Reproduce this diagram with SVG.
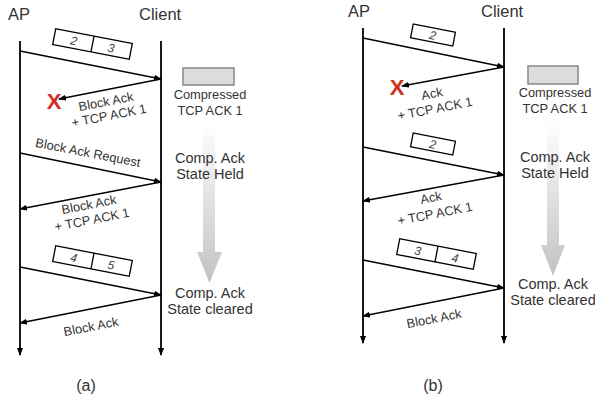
<svg xmlns="http://www.w3.org/2000/svg" width="595" height="402" viewBox="0 0 595 402">
  <defs>
    <style>
      text { font-family: "Liberation Sans", Arial, sans-serif; fill: #333; }
      .head { font-size: 16.5px; }
      .lbl { font-size: 12.8px; text-anchor: middle; }
      .state { font-size: 14.5px; text-anchor: middle; }
      .cmp { font-size: 12.8px; text-anchor: middle; }
      .cap { font-size: 16px; text-anchor: middle; }
      .num { font-size: 12px; text-anchor: middle; font-style: italic; fill: #444; }
      .life { stroke: #000; stroke-width: 1.8; fill: none; }
      .msg { stroke: #000; stroke-width: 1.3; fill: none; }
      .pkt { fill: #fff; stroke: #000; stroke-width: 1.3; }
      .cbox { fill: #dcdcdc; stroke: #888; stroke-width: 1.5; }
      .lost { font-size: 22px; font-weight: bold; fill: #d0311c; text-anchor: middle; }
    </style>
    <marker id="arr" markerWidth="8" markerHeight="6" refX="7" refY="3" orient="auto" markerUnits="userSpaceOnUse">
      <path d="M0,0 L8,3 L0,6 Z" fill="#000"/>
    </marker>
    <linearGradient id="fade" x1="0" y1="0" x2="0" y2="1">
      <stop offset="0" stop-color="#ffffff"/>
      <stop offset="1" stop-color="#c2c2c2"/>
    </linearGradient>
  </defs>

  <!-- panel (a) -->
  <g id="a-ap">
    <text class="head" x="8" y="20">AP</text>
    <line class="life" x1="20" y1="41" x2="20" y2="355" marker-end="url(#arr)"/>
  </g>
  <g id="a-client">
    <text class="head" x="139" y="20">Client</text>
    <line class="life" x1="161" y1="41" x2="161" y2="355" marker-end="url(#arr)"/>
  </g>
  <g id="a-pkt23" transform="translate(92.5,44) rotate(11)">
    <rect class="pkt" x="-39" y="-8" width="78" height="16"/>
    <line class="msg" x1="0" y1="-8" x2="0" y2="8"/>
    <text class="num" x="-19" y="4.5">2</text>
    <text class="num" x="19" y="4.5">3</text>
  </g>
  <g id="a-pkt45" transform="translate(92.5,261) rotate(11)">
    <rect class="pkt" x="-39" y="-8" width="78" height="16"/>
    <line class="msg" x1="0" y1="-8" x2="0" y2="8"/>
    <text class="num" x="-19" y="4.5">4</text>
    <text class="num" x="19" y="4.5">5</text>
  </g>
  <g id="a-compressed">
    <rect class="cbox" x="183" y="68" width="51" height="17"/>
    <text class="cmp" x="210" y="99">Compressed</text>
    <text class="cmp" x="210" y="115">TCP ACK 1</text>
  </g>
  <g id="a-progress">
    <path d="M203,122 H215 V252 H222 L209.5,283 L197,252 H203 Z" fill="url(#fade)"/>
  </g>
  <g id="a-held">
    <text class="state" x="210" y="163">Comp. Ack</text>
    <text class="state" x="210" y="179">State Held</text>
  </g>
  <g id="a-cleared">
    <text class="state" x="210" y="298">Comp. Ack</text>
    <text class="state" x="210" y="314">State cleared</text>
  </g>
  <g id="a-lost">
    <text class="lost" x="54" y="109">X</text>
  </g>
  <g id="a-labels">
    <text class="lbl" x="106" y="106" transform="rotate(-11,106,102)">Block Ack</text>
    <text class="lbl" x="109" y="120" transform="rotate(-11,109,116)">+ TCP ACK 1</text>
    <text class="lbl" x="88" y="157" transform="rotate(11,88,153)">Block Ack Request</text>
    <text class="lbl" x="89" y="209" transform="rotate(-11,89,205)">Block Ack</text>
    <text class="lbl" x="92" y="224" transform="rotate(-11,92,220)">+ TCP ACK 1</text>
    <text class="lbl" x="91" y="331" transform="rotate(-11,91,327)">Block Ack</text>
  </g>
  <text class="cap" x="86" y="391">(a)</text>

  <!-- panel (b) -->
  <g id="b-ap">
    <text class="head" x="348" y="17">AP</text>
    <line class="life" x1="363" y1="28" x2="363" y2="343" marker-end="url(#arr)"/>
  </g>
  <g id="b-client">
    <text class="head" x="481" y="17">Client</text>
    <line class="life" x1="504" y1="28" x2="504" y2="343" marker-end="url(#arr)"/>
  </g>
  <g id="b-pkt2a" transform="translate(433,35) rotate(11)">
    <rect class="pkt" x="-21.5" y="-7" width="43" height="14"/>
    <text class="num" x="0" y="4.5">2</text>
  </g>
  <g id="b-pkt2b" transform="translate(433,144) rotate(11)">
    <rect class="pkt" x="-21.5" y="-7" width="43" height="14"/>
    <text class="num" x="0" y="4.5">2</text>
  </g>
  <g id="b-pkt34" transform="translate(436.5,254) rotate(11)">
    <rect class="pkt" x="-39" y="-8" width="78" height="16"/>
    <line class="msg" x1="0" y1="-8" x2="0" y2="8"/>
    <text class="num" x="-19" y="4.5">3</text>
    <text class="num" x="19" y="4.5">4</text>
  </g>
  <g id="b-compressed">
    <rect class="cbox" x="528" y="66" width="50" height="18"/>
    <text class="cmp" x="555" y="97">Compressed</text>
    <text class="cmp" x="555" y="113">TCP ACK 1</text>
  </g>
  <g id="b-progress">
    <path d="M547,120 H559 V245 H565 L553,276 L541,245 H547 Z" fill="url(#fade)"/>
  </g>
  <g id="b-held">
    <text class="state" x="555" y="162">Comp. Ack</text>
    <text class="state" x="555" y="178">State Held</text>
  </g>
  <g id="b-cleared">
    <text class="state" x="553" y="289">Comp. Ack</text>
    <text class="state" x="553" y="305">State cleared</text>
  </g>
  <g id="b-lost">
    <text class="lost" x="397" y="95">X</text>
  </g>
  <g id="b-labels">
    <text class="lbl" x="432" y="98" transform="rotate(-11,432,94)">Ack</text>
    <text class="lbl" x="435" y="113" transform="rotate(-11,435,109)">+ TCP ACK 1</text>
    <text class="lbl" x="431" y="202" transform="rotate(-11,431,198)">Ack</text>
    <text class="lbl" x="435" y="218" transform="rotate(-11,435,214)">+ TCP ACK 1</text>
    <text class="lbl" x="434" y="323" transform="rotate(-11,434,319)">Block Ack</text>
  </g>
  <text class="cap" x="433" y="391">(b)</text>

  <!-- connectors -->
  <g id="connectors">
    <line class="msg" x1="20" y1="51" x2="161" y2="79" marker-end="url(#arr)"/>
    <line class="msg" x1="161" y1="79" x2="59" y2="99" marker-end="url(#arr)"/>
    <line class="msg" x1="20" y1="153" x2="161" y2="182" marker-end="url(#arr)"/>
    <line class="msg" x1="161" y1="182" x2="20" y2="209" marker-end="url(#arr)"/>
    <line class="msg" x1="20" y1="267" x2="161" y2="295" marker-end="url(#arr)"/>
    <line class="msg" x1="161" y1="295" x2="20" y2="323" marker-end="url(#arr)"/>

    <line class="msg" x1="363" y1="38" x2="504" y2="67" marker-end="url(#arr)"/>
    <line class="msg" x1="504" y1="67" x2="402" y2="86" marker-end="url(#arr)"/>
    <line class="msg" x1="363" y1="147" x2="504" y2="175" marker-end="url(#arr)"/>
    <line class="msg" x1="504" y1="175" x2="363" y2="201" marker-end="url(#arr)"/>
    <line class="msg" x1="363" y1="260" x2="504" y2="288" marker-end="url(#arr)"/>
    <line class="msg" x1="504" y1="288" x2="363" y2="316" marker-end="url(#arr)"/>
  </g>
</svg>
